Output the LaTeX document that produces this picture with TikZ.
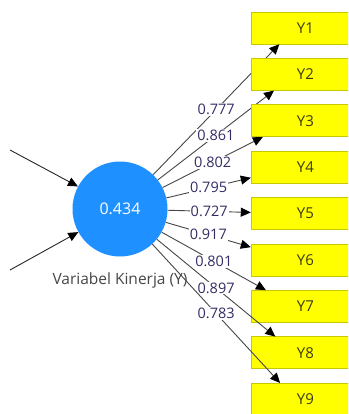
\documentclass[tikz,border=0pt]{standalone}
\usepackage{fontspec}
\setmainfont{Open Sans}
\usetikzlibrary{arrows.meta}
\definecolor{lvblue}{RGB}{30,144,255}
\definecolor{boxyellow}{RGB}{255,255,0}
\definecolor{boxedge}{RGB}{200,200,0}
\definecolor{boxtext}{RGB}{60,60,20}
\definecolor{wtext}{RGB}{50,45,100}
\definecolor{edgegray}{RGB}{70,70,70}
\definecolor{labgray}{RGB}{70,70,70}
\tikzset{
  latent/.style={circle, fill=lvblue, draw=none, minimum size=95pt, inner sep=0pt,
    text=white, font=\fontsize{16}{18}\selectfont},
  indbox/.style={rectangle, fill=boxyellow, draw=boxedge, line width=0.9pt,
    minimum height=32pt, inner sep=0pt, text=boxtext, anchor=west,
    font=\fontsize{15}{17}\selectfont},
  target/.style={rectangle, draw=none, minimum width=88pt, minimum height=32pt, inner sep=0pt},
  loadarrow/.style={draw=edgegray, line width=0.9pt, -{Triangle[length=10pt,width=9pt,color=black]}},
  inarrow/.style={draw=black!85, line width=0.9pt, -{Triangle[length=10pt,width=9pt,color=black]}},
  wlabel/.style={fill=white, inner sep=1pt, text=wtext, font=\fontsize{14.5}{16}\selectfont},
}
\begin{document}
\begin{tikzpicture}[x=1pt, y=-1pt]
  \useasboundingbox (0,0) rectangle (348,414);
  \clip (0,0) rectangle (348,414);
  \node[latent] (c) at (120,209) {0.434};
  \node[text=labgray, font=\fontsize{15.5}{17}\selectfont] (cl) at (120,280) {Variabel Kinerja (Y)};
  \coordinate (s1) at (10,150);
  \coordinate (s2) at (10,270);
  \draw[inarrow] (s1) -- (c);
  \draw[inarrow] (s2) -- (c);
  \foreach \i/\w in {1/0.777, 2/0.861, 3/0.802, 4/0.795, 5/0.727, 6/0.917, 7/0.801, 8/0.897, 9/0.783} {
    \pgfmathsetmacro{\yy}{28+46.4*(\i-1)}
    \node[indbox] (Y\i) at (251,\yy) {\makebox[108pt]{Y\i}\hspace*{40pt}};
    \node[target] (A\i) at (295,\yy) {};
    \draw[loadarrow] (c) -- node[wlabel] {\w} (A\i);
  }
\end{tikzpicture}
\end{document}
